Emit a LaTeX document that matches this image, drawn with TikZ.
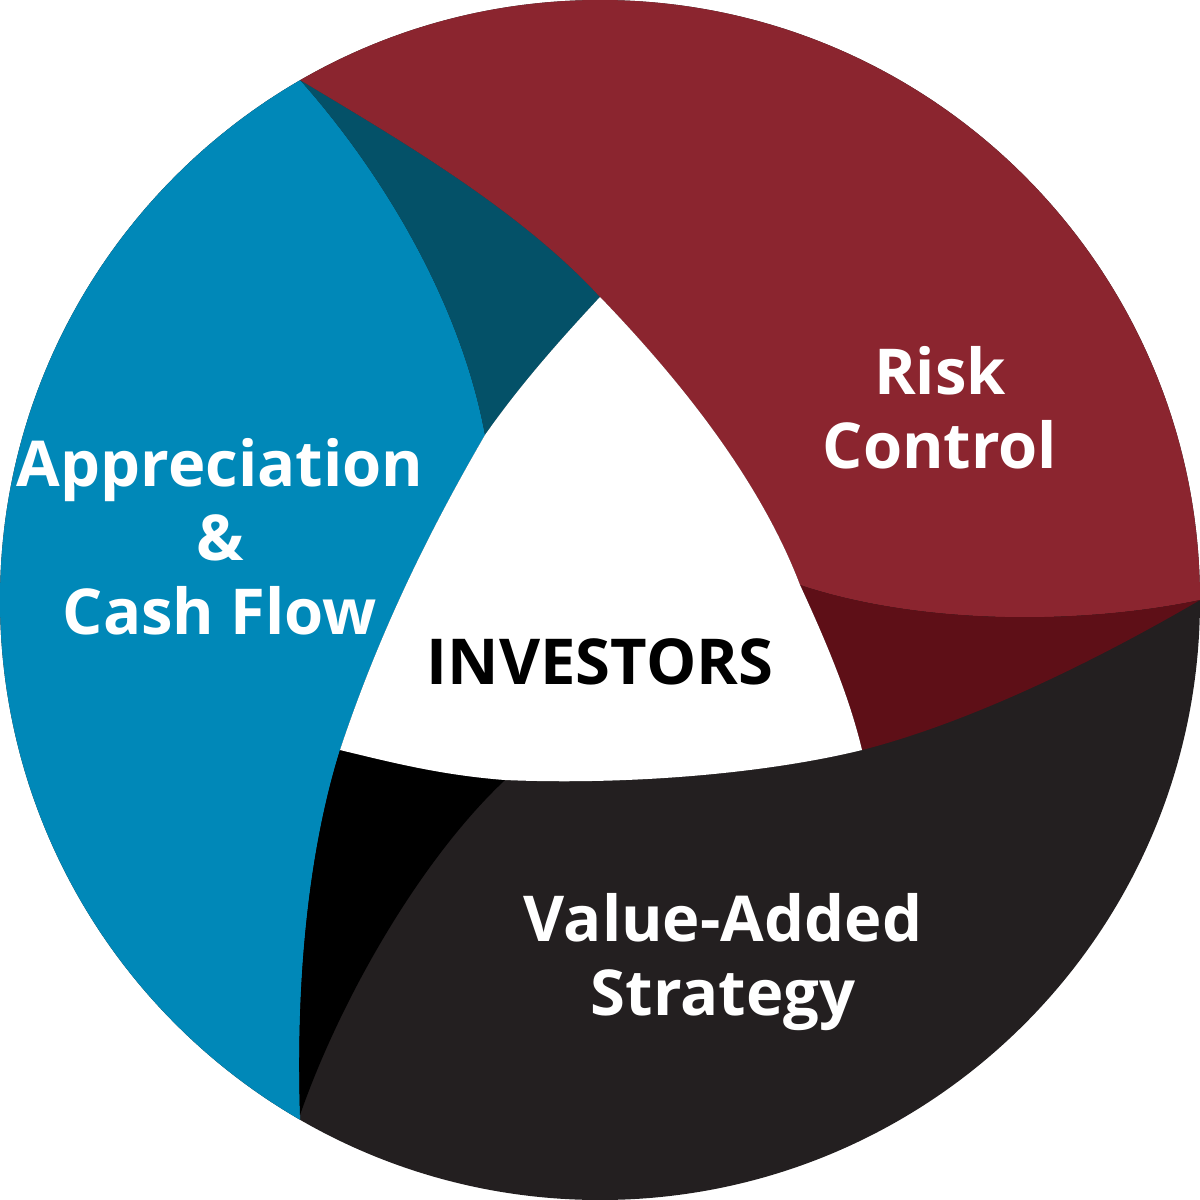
\documentclass[tikz,border=0pt]{standalone}
\usepackage{fontspec}
\setmainfont{Open Sans}
\begin{document}
\begin{tikzpicture}[x=0.01cm,y=-0.01cm,
  lbl/.style={text=white,font=\fontsize{18pt}{21pt}\selectfont\bfseries,align=center}]
\definecolor{cblue}{HTML}{0088B8}
\definecolor{cteal}{HTML}{045168}
\definecolor{cred}{HTML}{8B252F}
\definecolor{cdred}{HTML}{5E0F17}
\definecolor{cgray}{HTML}{231F20}
\useasboundingbox (0,0) rectangle (1200,1200);
\begin{scope}
\clip (600,600) circle (600);
\fill[cgray] (-100,-100) rectangle (1300,1300);
% blue
\fill[cblue] (300,-100) -- (300,80) .. controls (380,170) and (460,300) .. (485,435)
  .. controls (430,530) and (380,630) .. (340,750)
  .. controls (315,830) and (295,950) .. (300,1115) -- (300,1300) -- (-100,1300) -- (-100,-100) -- cycle;
% teal
\fill[cteal] (300,80) .. controls (400,140) and (520,210) .. (600,297)
  .. controls (560,340) and (520,385) .. (485,435)
  .. controls (460,300) and (380,170) .. (300,80) -- cycle;
% red
\fill[cred] (300,-100) -- (300,80) .. controls (400,140) and (520,210) .. (600,297)
  .. controls (680,380) and (760,480) .. (800,585)
  .. controls (920,625) and (1080,625) .. (1200,600) -- (1300,600) -- (1300,-100) -- cycle;
% dark red
\fill[cdred] (800,585) .. controls (830,650) and (850,700) .. (862,750)
  .. controls (960,725) and (1080,670) .. (1200,600)
  .. controls (1080,625) and (920,625) .. (800,585) -- cycle;
% black
\fill[black] (340,750) .. controls (390,762) and (440,775) .. (505,780)
  .. controls (420,860) and (340,1000) .. (300,1115)
  .. controls (295,950) and (315,830) .. (340,750) -- cycle;
% white triangle
\fill[white] (600,297) .. controls (680,380) and (760,480) .. (800,585)
  .. controls (830,650) and (850,700) .. (862,750)
  .. controls (760,775) and (620,785) .. (505,780)
  .. controls (440,775) and (390,762) .. (340,750)
  .. controls (380,630) and (430,530) .. (485,435)
  .. controls (520,385) and (560,340) .. (600,297) -- cycle;
\end{scope}
\node[lbl] (app) at (220,537) {Appreciation\\\&\\Cash Flow};
\node[lbl] (risk) at (940,408) {Risk\\Control};
\node[lbl] (val) at (723,962) {Value-Added\\Strategy};
\node[lbl,text=black] (inv) at (600,662) {INVESTORS};
\end{tikzpicture}
\end{document}
